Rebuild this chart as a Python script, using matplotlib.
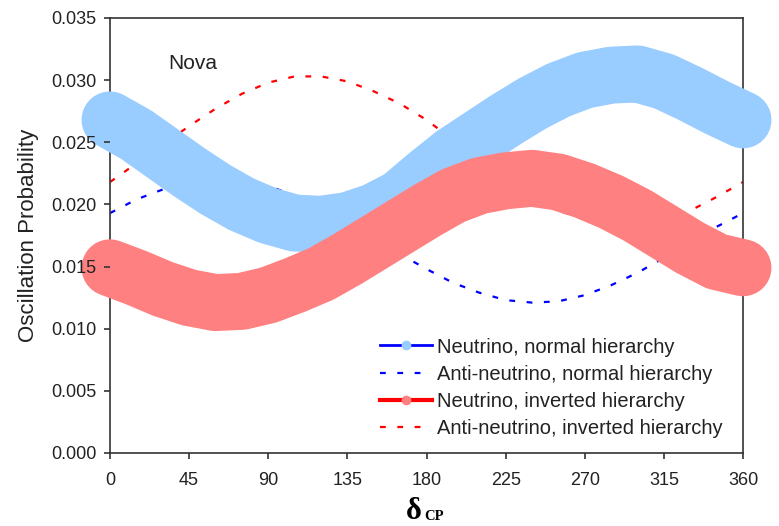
import matplotlib
matplotlib.use("Agg")
import matplotlib.pyplot as plt
from matplotlib.lines import Line2D

plt.rcParams['font.family'] = ['Liberation Sans', 'DejaVu Sans']

# delta_CP in degrees
delta_cp = [0, 15, 30, 45, 60, 75, 90, 105, 120, 135, 150, 165, 180,
            195, 210, 225, 240, 255, 270, 285, 300, 315, 330, 345, 360]

nu_normal = [0.0268, 0.0256, 0.0241, 0.0226, 0.0212, 0.0200, 0.0191, 0.0185,
             0.0184, 0.0187, 0.0194, 0.0205, 0.0223, 0.0240, 0.0254, 0.0268,
             0.0281, 0.0292, 0.0300, 0.0304, 0.0305, 0.0299, 0.0289, 0.0278, 0.0268]

anti_normal = [0.0193, 0.0204, 0.0212, 0.0218, 0.0220, 0.0219, 0.0215, 0.0207,
               0.0197, 0.0186, 0.0172, 0.0160, 0.0148, 0.0137, 0.0129, 0.0123,
               0.0121, 0.0122, 0.0127, 0.0135, 0.0145, 0.0157, 0.0170, 0.0182, 0.0193]

nu_inverted = [0.0149, 0.0141, 0.0132, 0.0125, 0.0121, 0.0122, 0.0127, 0.0135,
               0.0144, 0.0156, 0.0169, 0.0182, 0.0195, 0.0207, 0.0215, 0.0219,
               0.0221, 0.0218, 0.0211, 0.0202, 0.0191, 0.0178, 0.0165, 0.0154, 0.0149]

anti_inverted = [0.0218, 0.0233, 0.0248, 0.0263, 0.0277, 0.0289, 0.0298, 0.0303,
                 0.0303, 0.0299, 0.0291, 0.0281, 0.0268, 0.0252, 0.0237, 0.0221,
                 0.0206, 0.0195, 0.0188, 0.0183, 0.0183, 0.0187, 0.0195, 0.0206, 0.0218]

labels = ["Neutrino, normal hierarchy", "Anti-neutrino, normal hierarchy",
          "Neutrino, inverted hierarchy", "Anti-neutrino, inverted hierarchy"]

light_blue = '#99CCFF'
light_red = '#FF8080'
dash = (0, (2.6, 5.2))

fig = plt.figure(figsize=(7.79, 5.26), dpi=100)
ax = fig.add_axes([0.1412, 0.1388, 0.8126, 0.827])

# dashed anti-neutrino curves sit under the thick bands
ax.plot(delta_cp, anti_normal, color='blue', lw=1.6, ls=dash, zorder=1.5)
ax.plot(delta_cp, anti_inverted, color='red', lw=1.6, ls=dash, zorder=1.5)

# thick bands (overlapping big markers in the original), above the spines
ax.plot(delta_cp, nu_normal, color=light_blue, lw=41, solid_capstyle='round',
        solid_joinstyle='round', zorder=3, clip_on=False)
ax.plot(delta_cp, nu_inverted, color=light_red, lw=41, solid_capstyle='round',
        solid_joinstyle='round', zorder=3.1, clip_on=False)

ax.set_xlim(0, 360)
ax.set_ylim(0, 0.035)
ax.set_xticks([0, 45, 90, 135, 180, 225, 270, 315, 360])
ax.set_yticks([0, 0.005, 0.010, 0.015, 0.020, 0.025, 0.030, 0.035])
ax.yaxis.set_major_formatter(matplotlib.ticker.FormatStrFormatter('%.3f'))
# tick labels stay readable on top of the bands
ax.xaxis.set_zorder(4)
ax.yaxis.set_zorder(4)

for s in ax.spines.values():
    s.set_color('#333333')
    s.set_linewidth(1.2)
ax.tick_params(axis='both', direction='out', length=4.5, width=1.2,
               color='#333333', labelcolor='#222222', labelsize=13)
ax.tick_params(axis='x', pad=9)
ax.tick_params(axis='y', pad=5)

ax.set_ylabel("Oscillation Probability", fontsize=16, color='#222222', labelpad=9)

ax.text(33, 0.0313, "Nova", fontsize=15, color='#222222', ha='left', va='center')

# x label: bold serif delta with CP subscript
fig.text(406 / 779, 1 - 519 / 526, "δ", family='Liberation Serif', weight='bold',
         fontsize=22, ha='left', va='baseline')
fig.text(424 / 779, 1 - 520 / 526, "CP", family='Liberation Serif', weight='bold',
         fontsize=10.5, ha='left', va='baseline')

handles = [
    Line2D([], [], color='blue', lw=2, marker='o', markersize=6,
           markerfacecolor=light_blue, markeredgecolor=light_blue, markevery=[1]),
    Line2D([], [], color='blue', lw=1.6, ls=dash),
    Line2D([], [], color='red', lw=3, marker='o', markersize=6,
           markerfacecolor=light_red, markeredgecolor=light_red, markevery=[1]),
    Line2D([], [], color='red', lw=1.6, ls=dash),
]
leg = ax.legend(handles, labels, loc='upper left', bbox_to_anchor=(0.414, 0.284),
                borderaxespad=0, frameon=False, fontsize=14.5, handlelength=2.6,
                handletextpad=0.2, labelspacing=0.4, borderpad=0.4)
leg.set_zorder(5)
for t in leg.get_texts():
    t.set_color('#222222')

fig.savefig("out.png", dpi=100)
